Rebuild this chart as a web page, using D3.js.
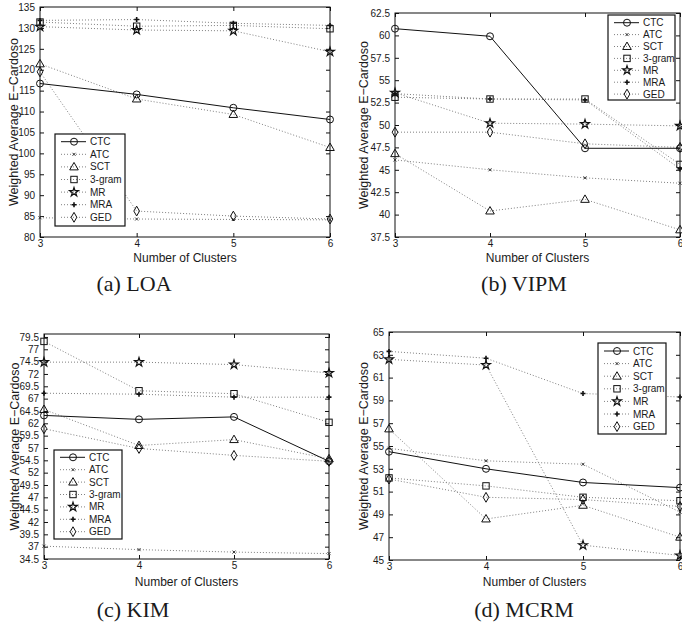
<!DOCTYPE html>
<html>
<head>
<meta charset="utf-8">
<script src="https://cdn.jsdelivr.net/npm/d3@7"></script>
<style>
  body { margin: 0; background: #fff; }
  svg { display: block; }
  text { font-family: "Liberation Sans", Arial, sans-serif; fill: #1a1a1a; }
  .cap { font-family: "Liberation Serif", "Times New Roman", serif; }
</style>
</head>
<body>
<svg id="chart" width="682" height="626"></svg>
<script>
const clusters = [3, 4, 5, 6]
const methods = ['CTC', 'ATC', 'SCT', '3-gram', 'MR', 'MRA', 'GED']

// values per method, in the order of `methods`
const loaValues = [
  [116.7, 114.1, 110.9, 108.1],
  [84.6, 84.3, 84.2, 84.1],
  [121.4, 113.0, 109.3, 101.4],
  [131.4, 130.4, 130.6, 129.8],
  [130.3, 129.5, 129.3, 124.3],
  [131.8, 132.0, 131.1, 130.6],
  [119.5, 86.2, 85.0, 84.3]
]
const vipmValues = [
  [60.75, 59.9, 47.4, 47.4],
  [46.1, 45.0, 44.1, 43.5],
  [46.8, 40.4, 41.7, 38.3],
  [53.1, 52.9, 52.9, 45.6],
  [53.6, 50.2, 50.1, 49.9],
  [53.5, 52.9, 52.8, 45.1],
  [49.2, 49.2, 47.9, 47.5]
]
const kimValues = [
  [63.6, 62.8, 63.3, 54.3],
  [37.1, 36.4, 35.9, 35.6],
  [64.8, 57.5, 58.7, 54.8],
  [78.6, 68.6, 68.0, 62.2],
  [74.4, 74.4, 73.9, 72.2],
  [68.1, 67.9, 67.3, 67.3],
  [60.9, 56.9, 55.5, 54.3]
]
const mcrmValues = [
  [54.5, 53.0, 51.8, 51.35],
  [54.8, 53.7, 53.4, 49.2],
  [56.5, 48.6, 49.8, 47.0],
  [52.2, 51.5, 50.5, 50.2],
  [62.6, 62.1, 46.3, 45.4],
  [63.3, 62.7, 59.6, 59.3],
  [52.1, 50.5, 50.3, 49.7]
]

const loaTicks = [80, 85, 90, 95, 100, 105, 110, 115, 120, 125, 130, 135]
const vipmTicks = [37.5, 40, 42.5, 45, 47.5, 50, 52.5, 55, 57.5, 60, 62.5]
const kimTicks = [34.5, 37, 39.5, 42, 44.5, 47, 49.5, 52, 54.5, 57, 59.5, 62, 64.5, 67, 69.5, 72, 74.5, 77, 79.5]
const mcrmTicks = [45, 47, 49, 51, 53, 55, 57, 59, 61, 63, 65]

const panels = [
  { values: loaValues, ticks: loaTicks, domain: [80, 135], caption: '(a) LOA',
    left: 40, right: 330, top: 7, bottom: 237, capX: 134, capY: 291, xlabY: 262, ylabX: 14,
    legend: { x: 55, y: 134, w: 70, h: 92, first: 7.7, step: 12.6 } },
  { values: vipmValues, ticks: vipmTicks, domain: [37.5, 62.5], caption: '(b) VIPM',
    left: 395, right: 680, top: 13, bottom: 237, capX: 524, capY: 291, xlabY: 262, ylabX: 364,
    legend: { x: 608, y: 15, w: 67, h: 85, first: 7.7, step: 11.9 } },
  { values: kimValues, ticks: kimTicks, domain: [34.5, 80.1], caption: '(c) KIM',
    left: 44, right: 329, top: 334, bottom: 559, capX: 133, capY: 617, xlabY: 586, ylabX: 15,
    legend: { x: 54, y: 450, w: 68, h: 89, first: 7.3, step: 12.4 } },
  { values: mcrmValues, ticks: mcrmTicks, domain: [45, 65], caption: '(d) MCRM',
    left: 389, right: 680, top: 332, bottom: 560, capX: 524, capY: 617, xlabY: 586, ylabX: 364,
    legend: { x: 598, y: 343, w: 68, h: 91, first: 8, step: 12.6 } }
]

const svg = d3.select('#chart')

const star = d3.symbol().type(d3.symbolStar).size(24)
const tri = d3.symbol().type(d3.symbolTriangle).size(32)
const diamond = d3.symbol().type(d3.symbolDiamond).size(28)

// draws method marker i at (cx, cy)
function marker(g, i, cx, cy) {
  const k = methods[i]
  if (k === 'CTC') {
    g.append('circle').attr('cx', cx).attr('cy', cy).attr('r', 3.5)
      .attr('fill', 'none').attr('stroke', '#111').attr('stroke-width', 1)
  } else if (k === 'ATC') {
    g.append('path').attr('d', `M${cx - 1.5},${cy - 1.5}L${cx + 1.5},${cy + 1.5}M${cx - 1.5},${cy + 1.5}L${cx + 1.5},${cy - 1.5}`)
      .attr('stroke', '#333').attr('stroke-width', 1)
  } else if (k === 'SCT') {
    g.append('path').attr('d', tri).attr('transform', `translate(${cx},${cy + 0.5})`)
      .attr('fill', 'none').attr('stroke', '#111').attr('stroke-width', 1)
  } else if (k === '3-gram') {
    g.append('rect').attr('x', cx - 3.2).attr('y', cy - 3.2).attr('width', 6.4).attr('height', 6.4)
      .attr('fill', 'none').attr('stroke', '#111').attr('stroke-width', 1)
  } else if (k === 'MR') {
    g.append('path').attr('d', star).attr('transform', `translate(${cx},${cy})`)
      .attr('fill', 'none').attr('stroke', '#111').attr('stroke-width', 1.2)
  } else if (k === 'MRA') {
    g.append('path').attr('d', `M${cx - 2.5},${cy}L${cx + 2.5},${cy}M${cx},${cy - 2.5}L${cx},${cy + 2.5}`)
      .attr('stroke', '#111').attr('stroke-width', 1.6)
  } else {
    g.append('path').attr('d', diamond).attr('transform', `translate(${cx},${cy})`)
      .attr('fill', 'none').attr('stroke', '#111').attr('stroke-width', 1)
  }
}

function lineStyle(sel, i) {
  if (i === 0) sel.attr('stroke', '#111').attr('stroke-width', 1)
  else sel.attr('stroke', '#808080').attr('stroke-width', 1).attr('stroke-dasharray', '1,2')
}

panels.forEach(p => {
  const x = d3.scaleLinear().domain([3, 6]).range([p.left, p.right])
  const y = d3.scaleLinear().domain(p.domain).range([p.bottom, p.top])
  const g = svg.append('g')

  // frame
  g.append('rect').attr('x', p.left).attr('y', p.top)
    .attr('width', p.right - p.left).attr('height', p.bottom - p.top)
    .attr('fill', 'none').attr('stroke', '#111').attr('stroke-width', 1)

  // inward ticks on all sides
  g.append('g').attr('transform', `translate(0,${p.bottom})`)
    .call(d3.axisBottom(x).tickValues(clusters).tickFormat(d3.format('d')).tickSizeInner(-4).tickSizeOuter(0).tickPadding(3))
  g.append('g').attr('transform', `translate(${p.left},0)`)
    .call(d3.axisLeft(y).tickValues(p.ticks).tickFormat(d => d).tickSizeInner(-4).tickSizeOuter(0).tickPadding(5))
  g.append('g').attr('transform', `translate(0,${p.top})`)
    .call(d3.axisTop(x).tickValues(clusters).tickFormat('').tickSizeInner(-4).tickSizeOuter(0))
  g.append('g').attr('transform', `translate(${p.right},0)`)
    .call(d3.axisRight(y).tickValues(p.ticks).tickFormat('').tickSizeInner(-4).tickSizeOuter(0))
  g.selectAll('.domain').remove()
  g.selectAll('.tick line').attr('stroke', '#111')
  g.selectAll('.tick text').attr('font-size', 10).attr('font-family', '"Liberation Sans", Arial, sans-serif').attr('fill', '#1a1a1a')

  // series
  const line = d3.line().x((d, j) => x(clusters[j])).y(d => y(d))
  for (let i = methods.length - 1; i >= 0; i--) {
    g.append('path').datum(p.values[i]).attr('d', line).attr('fill', 'none').call(lineStyle, i)
  }
  for (let i = methods.length - 1; i >= 0; i--) {
    p.values[i].forEach((v, j) => marker(g, i, x(clusters[j]), y(v)))
  }

  // legend
  const L = p.legend
  const lg = g.append('g')
  lg.append('rect').attr('x', L.x).attr('y', L.y).attr('width', L.w).attr('height', L.h)
    .attr('fill', '#fff').attr('stroke', '#111').attr('stroke-width', 1.2)
  methods.forEach((m, i) => {
    const ry = L.y + L.first + i * L.step
    lg.append('line').attr('x1', L.x + 6).attr('x2', L.x + 31).attr('y1', ry).attr('y2', ry).call(lineStyle, i)
    marker(lg, i, L.x + 19, ry)
    lg.append('text').attr('x', L.x + 35).attr('y', ry + 3.5).attr('font-size', 10).text(m)
  })

  // labels
  g.append('text').attr('x', (p.left + p.right) / 2).attr('y', p.xlabY)
    .attr('text-anchor', 'middle').attr('font-size', 12).text('Number of Clusters')
  g.append('text').attr('transform', `translate(${p.ylabX},${(p.top + p.bottom) / 2}) rotate(-90)`)
    .attr('text-anchor', 'middle').attr('dy', '0.35em').attr('font-size', 12.5).text('Weighted Average E\u2212Cardoso')
  g.append('text').attr('class', 'cap').attr('x', p.capX).attr('y', p.capY)
    .attr('text-anchor', 'middle').attr('font-size', 22).text(p.caption)
})
</script>
</body>
</html>
